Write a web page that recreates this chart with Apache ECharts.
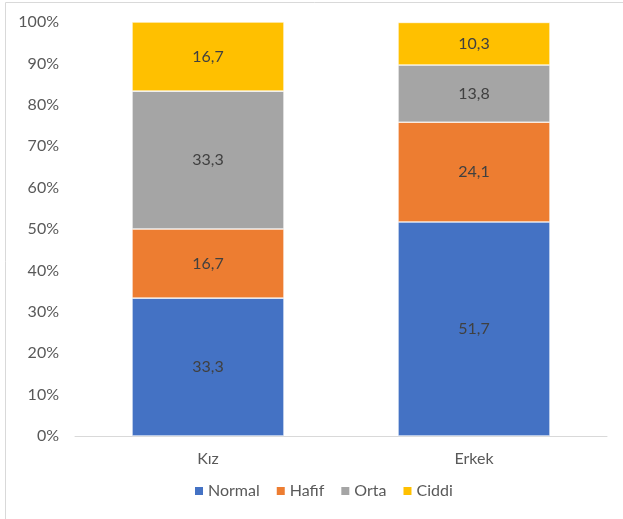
<!DOCTYPE html>
<html><head><meta charset="utf-8">
<script src="https://cdn.jsdelivr.net/npm/echarts@6/dist/echarts.min.js"></script>
<style>html,body{margin:0;padding:0;background:#fff}#c{width:623px;height:519px}</style>
</head><body><div id="c"></div>
<script>
const categories = ['Kız', 'Erkek'];
const normal = [33.3, 51.7];
const hafif = [16.7, 24.1];
const orta = [33.3, 13.8];
const ciddi = [16.7, 10.3];
const yTicks = [0, 10, 20, 30, 40, 50, 60, 70, 80, 90, 100];

const FONT = 'Lato';
const chart = echarts.init(document.getElementById('c'));
function mk(name, data, color) {
  return {
    name, type: 'bar', stack: 't', data, barWidth: 152,
    itemStyle: { color, borderColor: '#ffffff', borderWidth: 0.6 },
    label: { show: true, position: 'inside', color: '#404040', fontSize: 16, fontFamily: FONT,
      formatter: p => String(p.value.toFixed(1)).replace('.', ',') }
  };
}
chart.setOption({
  animation: false,
  textStyle: { fontFamily: FONT },
  grid: { left: 75, right: 16, top: 22, bottom: 83, containLabel: false },
  graphic: [{ type: 'rect', shape: { x: 5.5, y: 2.5, width: 700, height: 600 }, style: { fill: 'none', stroke: '#d9d9d9', lineWidth: 1 } }],
  legend: {
    bottom: 15, left: 188, itemWidth: 10, itemHeight: 10, itemGap: 15,
    icon: 'rect', textStyle: { color: '#595959', fontSize: 16, fontFamily: FONT, padding: [0, 0, 0, -1] },
    data: ['Normal', 'Hafif', 'Orta', 'Ciddi']
  },
  xAxis: {
    type: 'category', data: categories,
    axisLine: { lineStyle: { color: '#d9d9d9', width: 1 } },
    axisTick: { show: false },
    axisLabel: { color: '#595959', fontSize: 16, margin: 15, fontFamily: FONT }
  },
  yAxis: {
    type: 'value', min: yTicks[0], max: yTicks[yTicks.length - 1], interval: 10,
    axisLine: { show: false }, axisTick: { show: false }, splitLine: { show: false },
    axisLabel: { color: '#595959', fontSize: 16, margin: 16, fontFamily: FONT, formatter: v => v + '%' }
  },
  series: [
    mk('Normal', normal, '#4472C4'),
    mk('Hafif', hafif, '#ED7D31'),
    mk('Orta', orta, '#A5A5A5'),
    mk('Ciddi', ciddi, '#FFC000')
  ]
});
</script></body></html>
